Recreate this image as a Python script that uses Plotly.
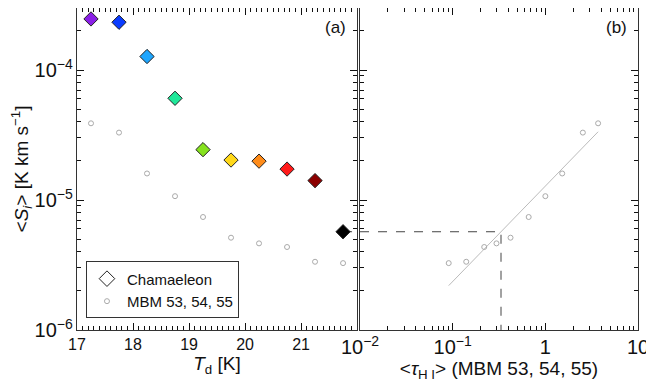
import plotly.graph_objs as go
import numpy as np

# data
td = [17.25, 17.75, 18.25, 18.75, 19.25, 19.75, 20.25, 20.75, 21.25, 21.75]
s_cham = [2.47e-4, 2.33e-4, 1.27e-4, 6.06e-5, 2.44e-5, 2.03e-5, 1.99e-5, 1.73e-5, 1.41e-5, 5.7e-6]
s_mbm = [3.89e-5, 3.3e-5, 1.6e-5, 1.07e-5, 7.4e-6, 5.13e-6, 4.64e-6, 4.35e-6, 3.35e-6, 3.27e-6]
tau_mbm = [3.71, 2.54, 1.52, 1.0, 0.661, 0.421, 0.297, 0.219, 0.140, 0.0906]
cham_colors = ['#8a1fe6', '#0a3cff', '#1ea6ff', '#1fe89a', '#86e21e',
               '#ffd81a', '#ff8c1a', '#ff1a1a', '#8c0000', '#000000']

# power law fit: log S = fit_a + fit_b * log tau
fit_a = -4.893
fit_b = 0.734

font = 'Liberation Sans, Arial, sans-serif'
axcol = '#333333'
tkcol = '#111111'

tau_fit = np.array([min(tau_mbm), max(tau_mbm)])
s_fit = 10 ** (fit_a + fit_b * np.log10(tau_fit))
tau_cham = 10 ** ((np.log10(s_cham[-1]) - fit_a) / fit_b)

fig = go.Figure()

# panel (a)
fig.add_trace(go.Scatter(x=[td[-1], 22], y=[s_cham[-1], s_cham[-1]], mode='lines',
                         line=dict(color='#444', width=1, dash='dash'),
                         showlegend=False, cliponaxis=False))
fig.add_trace(go.Scatter(x=td, y=s_mbm, mode='markers', name='MBM 53, 54, 55',
                         marker=dict(symbol='circle-open', size=5, color='#aaaaaa',
                                     line=dict(width=1)),
                         showlegend=False))
fig.add_trace(go.Scatter(x=td, y=s_cham, mode='markers', name='Chamaeleon',
                         marker=dict(symbol='diamond', size=11, color=cham_colors,
                                     line=dict(color='#222', width=1)),
                         showlegend=False))
# legend entries
fig.add_trace(go.Scatter(x=[None], y=[None], mode='markers', name='Chamaeleon',
                         marker=dict(symbol='diamond-open', size=12, color='#222',
                                     line=dict(width=1))))
fig.add_trace(go.Scatter(x=[None], y=[None], mode='markers', name='MBM 53, 54, 55',
                         marker=dict(symbol='circle-open', size=5, color='#aaaaaa',
                                     line=dict(width=1))))

# panel (b)
fig.add_trace(go.Scatter(x=tau_fit, y=s_fit, mode='lines', xaxis='x2', yaxis='y2',
                         line=dict(color='#bbbbbb', width=1), showlegend=False))
fig.add_trace(go.Scatter(x=[0.01, tau_cham, tau_cham], y=[s_cham[-1], s_cham[-1], 1e-6],
                         mode='lines', xaxis='x2', yaxis='y2',
                         line=dict(color='#444', width=1, dash='dash'),
                         showlegend=False, cliponaxis=False))
fig.add_trace(go.Scatter(x=tau_mbm, y=s_mbm, mode='markers', xaxis='x2', yaxis='y2',
                         marker=dict(symbol='circle-open', size=5, color='#aaaaaa',
                                     line=dict(width=1)),
                         showlegend=False))

common = dict(showgrid=False, zeroline=False, showline=True, linecolor=axcol, linewidth=1,
              mirror='allticks', ticks='inside', ticklen=7, tickcolor=tkcol, tickwidth=1.2,
              tickfont=dict(size=16, color='#111', family=font))
minor_lin = dict(ticks='inside', ticklen=4, tickcolor=tkcol, tickwidth=1.2, dtick=0.1, showgrid=False)
minor_log = dict(ticks='inside', ticklen=4, tickcolor=tkcol, tickwidth=1.2, dtick='D1', showgrid=False)

# the page body adds an 8 px offset, so the figure is 8 px smaller than the window
fig.update_layout(
    width=646, height=378,
    margin=dict(l=69, r=16, t=0, b=56),
    plot_bgcolor='white', paper_bgcolor='white',
    font=dict(family=font, size=16, color='#111'),
    xaxis=dict(domain=[0, 0.4991], range=[17, 21.999], tickmode='linear', tick0=17, dtick=1,
               minor=minor_lin,
               title=dict(text='<i>T</i><sub>d</sub> [K]', standoff=2), **common),
    yaxis=dict(type='log', range=[-6, -3.523], tickmode='linear', dtick=1,
               exponentformat='power', minor=minor_log,
               title=dict(text='&lt;<i>S</i><sub><i>i</i></sub>&gt; [K km s<sup>−1</sup>]', standoff=8),
               **common),
    xaxis2=dict(domain=[0.5045, 1], type='log', range=[-2, 1], anchor='y2',
                tickmode='linear', dtick=1, exponentformat='power', minor=minor_log,
                title=dict(text='&lt;<i>τ</i><sub>H I</sub>&gt; (MBM 53, 54, 55)', standoff=2),
                **common),
    yaxis2=dict(type='log', range=[-6, -3.523], anchor='x2', matches='y',
                showticklabels=False, tickmode='linear', dtick=1, minor=minor_log,
                **common),
    legend=dict(x=0.016, y=0.213, xanchor='left', yanchor='top',
                bordercolor=axcol, borderwidth=1, bgcolor='white',
                font=dict(size=15, family=font), itemwidth=30, tracegroupgap=2),
    showlegend=True,
    annotations=[
        dict(text='(a)', x=0.4991, y=1, xref='paper', yref='paper', xanchor='right',
             yanchor='top', xshift=-9, yshift=-8, showarrow=False, font=dict(size=17)),
        dict(text='(b)', x=1, y=1, xref='paper', yref='paper', xanchor='right',
             yanchor='top', xshift=-9, yshift=-8, showarrow=False, font=dict(size=17)),
    ],
)

fig.write_html('out.html')
